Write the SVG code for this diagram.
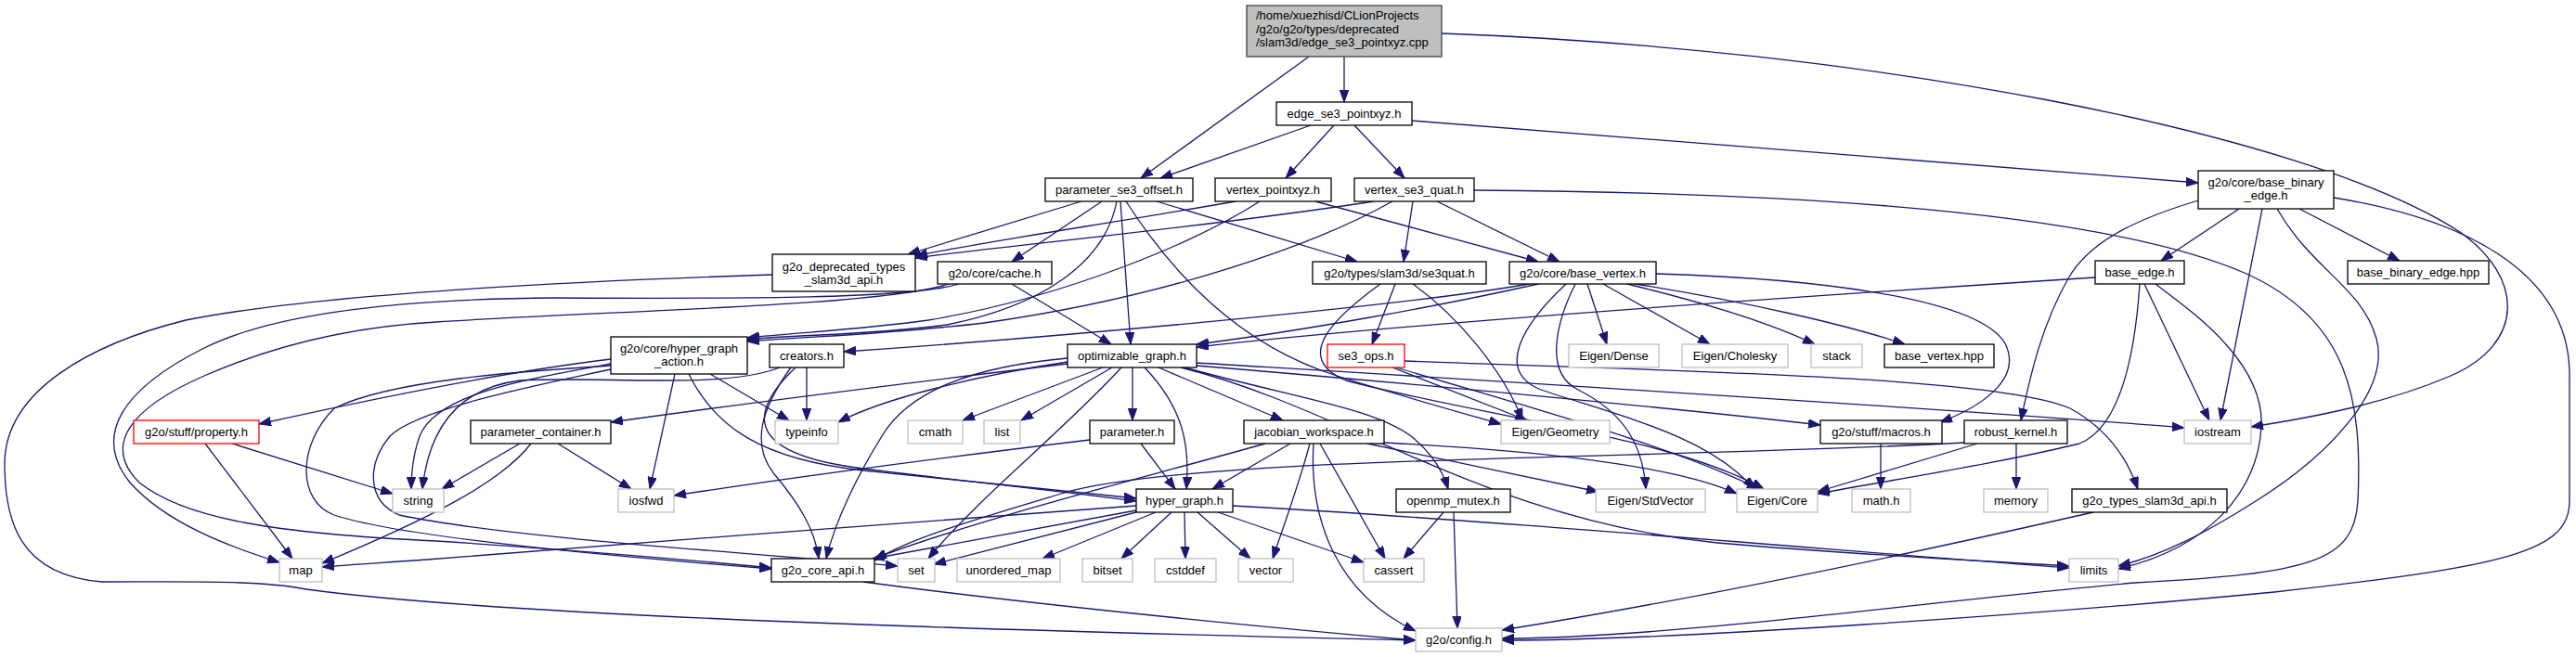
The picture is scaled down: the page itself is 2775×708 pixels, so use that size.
<svg xmlns="http://www.w3.org/2000/svg" width="2775" height="708" viewBox="0 0 2775 708">
<style>
.n rect{fill:#fff;stroke:#000;stroke-width:1.3}
.s rect{fill:#fff;stroke:#bfbfbf;stroke-width:1.3}
.r rect{fill:#fff;stroke:#ff0000;stroke-width:1.3}
.root rect{fill:#bfbfbf;stroke:#404040;stroke-width:1.3}
text{font-family:"Liberation Sans",Arial,sans-serif;font-size:13px;fill:#000;text-anchor:middle}
.root text{text-anchor:start}
#edges path{fill:none;stroke:#191970;stroke-width:1.3;marker-end:url(#ah)}
</style>
<defs>
<marker id="ah" markerUnits="userSpaceOnUse" markerWidth="13" markerHeight="10" refX="13" refY="4.75" orient="auto">
<path d="M0,0 L13,4.75 L0,9.5 z" fill="#191970" stroke="#191970" stroke-width="1"/>
</marker>
</defs>
<rect x="0" y="0" width="2775" height="708" fill="#fff"/>
<g id="edges">
<path d="M1448,61 L1448,110"/>
<path d="M1410,61 L1229,192"/>
<path d="M1553,36 C2000,52 2480,140 2650,250 C2720,300 2720,370 2640,405 C2570,435 2490,450 2425,460"/>
<path d="M1412,135 L1250,192"/>
<path d="M1437,135 L1385,192"/>
<path d="M1459,135 L1513,192"/>
<path d="M1521,130 C1800,150 2100,178 2368,197"/>
<path d="M1165,217 L978,274"/>
<path d="M1187,217 L1090,282"/>
<path d="M1203,217 C1190,285 1120,330 1020,350 C930,362 860,360 805,366"/>
<path d="M1207,217 L1218,371"/>
<path d="M1213,217 C1260,290 1330,370 1440,405 C1520,430 1575,445 1617,457"/>
<path d="M1246,217 L1462,282"/>
<path d="M1331,217 C1200,240 1050,262 986,276"/>
<path d="M1357,217 C1290,260 1150,320 1000,345 C920,356 860,358 805,364"/>
<path d="M1417,217 L1657,282"/>
<path d="M1480,217 C1300,245 1080,265 986,278"/>
<path d="M1500,217 C1420,262 1260,320 1060,348 C960,360 880,362 805,368"/>
<path d="M1522,217 L1512,282"/>
<path d="M1548,217 L1680,282"/>
<path d="M1588,205 C1900,207 2260,225 2420,295 C2530,345 2545,430 2540,540 C2536,605 2490,618 2300,628 C2100,645 1800,688 1618,688"/>
<path d="M2412,225 L2328,281"/>
<path d="M2437,225 L2392,453"/>
<path d="M2453,225 C2490,290 2545,310 2560,365 C2575,420 2510,490 2430,540 C2375,575 2330,598 2282,610"/>
<path d="M2477,225 L2585,281"/>
<path d="M2368,216 C2295,238 2250,262 2228,300 C2200,350 2188,400 2177,453"/>
<path d="M2514,213 C2650,235 2765,290 2768,400 L2768,540 C2768,595 2700,610 2450,638 C2200,662 1800,690 1618,690"/>
<path d="M2257,299 C1900,322 1500,350 1289,374"/>
<path d="M2310,306 L2380,453"/>
<path d="M2322,306 C2360,335 2440,390 2436,460 C2432,530 2380,590 2282,613"/>
<path d="M2305,306 C2300,380 2285,460 2240,478 C2150,500 2050,515 1958,532"/>
<path d="M1657,306 C1550,330 1400,357 1289,371"/>
<path d="M1647,306 C1500,332 1100,366 909,379"/>
<path d="M1710,306 L1731,371"/>
<path d="M1727,306 L1842,371"/>
<path d="M1753,306 C1830,325 1900,345 1955,371"/>
<path d="M1762,306 C1880,325 1990,350 2052,371"/>
<path d="M1784,295 C1950,300 2130,320 2160,370 C2180,410 2130,440 2090,455"/>
<path d="M1697,306 C1680,340 1660,400 1700,420 C1750,445 1770,480 1773,527"/>
<path d="M1687,306 C1640,350 1610,400 1660,420 C1750,450 1840,470 1890,527"/>
<path d="M1503,306 L1478,371"/>
<path d="M1522,306 C1570,340 1620,400 1640,453"/>
<path d="M1487,306 C1440,340 1390,385 1450,410 C1600,450 1800,470 1900,527"/>
<path d="M1513,389 C1800,400 2150,405 2230,440 C2270,462 2292,495 2303,527"/>
<path d="M1500,396 L1645,453"/>
<path d="M1504,396 C1650,440 1800,480 1895,527"/>
<path d="M1150,390 C1050,405 950,430 903,455"/>
<path d="M1188,396 L1037,453"/>
<path d="M1198,396 L1100,453"/>
<path d="M1208,396 C1150,460 1050,540 1000,602"/>
<path d="M1220,396 L1220,453"/>
<path d="M1233,396 C1275,440 1282,480 1278,527"/>
<path d="M1248,396 L1382,453"/>
<path d="M1289,391 C1600,410 2100,440 2353,461"/>
<path d="M1289,394 C1600,420 1850,445 1961,458"/>
<path d="M1272,396 C1450,440 1600,560 1850,585 C2000,598 2150,605 2229,610"/>
<path d="M1276,396 C1400,430 1480,440 1520,470 C1545,490 1555,510 1560,527"/>
<path d="M1150,386 C1050,395 980,420 950,470 C925,510 900,560 890,602"/>
<path d="M1150,392 C1000,410 800,435 658,455"/>
<path d="M658,387 C550,400 400,430 279,457"/>
<path d="M658,392 C560,410 470,425 452,470 C445,490 443,510 443,527"/>
<path d="M727,403 L700,527"/>
<path d="M765,403 L850,453"/>
<path d="M742,403 C770,460 820,495 930,507 C1050,520 1150,530 1224,537"/>
<path d="M658,394 C560,400 420,410 360,440 C320,480 320,540 360,555 C420,575 600,595 831,613"/>
<path d="M658,398 C580,415 450,440 420,470 C395,500 395,540 430,555 C550,580 800,595 967,610"/>
<path d="M869,396 L869,453"/>
<path d="M840,396 C780,420 650,405 560,410 C480,420 460,480 455,527"/>
<path d="M857,396 C800,450 810,490 930,505 C1050,520 1150,530 1224,540"/>
<path d="M852,396 C820,440 808,480 835,512 C860,542 878,570 882,602"/>
<path d="M560,478 L476,527"/>
<path d="M601,478 L680,527"/>
<path d="M572,478 C540,520 460,560 347,607"/>
<path d="M250,478 L423,532"/>
<path d="M221,478 L315,602"/>
<path d="M1229,478 L1266,527"/>
<path d="M1174,474 C1000,495 850,515 726,534"/>
<path d="M1390,478 L1306,527"/>
<path d="M1411,478 C1400,520 1385,560 1371,602"/>
<path d="M1422,478 L1492,602"/>
<path d="M1415,478 C1410,560 1440,640 1525,680"/>
<path d="M1363,478 C1250,510 1050,560 942,602"/>
<path d="M1473,478 L1722,530"/>
<path d="M1491,477 C1650,485 1800,500 1871,532"/>
<path d="M1224,545 C1000,560 700,585 460,603 C420,606 380,608 347,611"/>
<path d="M1224,550 L940,602"/>
<path d="M1224,552 L1006,608"/>
<path d="M1245,552 L1123,602"/>
<path d="M1262,552 L1208,602"/>
<path d="M1276,552 L1277,602"/>
<path d="M1290,552 L1347,602"/>
<path d="M1312,552 L1469,606"/>
<path d="M1328,545 C1600,560 2000,595 2229,612"/>
<path d="M1555,552 L1512,602"/>
<path d="M1566,552 L1570,677"/>
<path d="M2026,478 L2026,527"/>
<path d="M2172,478 L2172,527"/>
<path d="M2130,478 L1958,530"/>
<path d="M2116,477 C1800,495 1300,490 1150,530 C1050,560 980,580 942,604"/>
<path d="M2255,552 C2000,610 1800,650 1618,679"/>
<path d="M930,627 C1100,650 1350,675 1525,690"/>
<path d="M832,296 C650,302 350,315 200,345 C100,370 5,420 5,500 C5,560 20,620 110,627 C200,627 280,625 330,635 C550,665 1100,680 1525,690"/>
<path d="M1033,306 C980,322 800,322 600,321 C450,322 300,335 220,375 C130,420 100,470 140,520 C180,565 250,590 301,606"/>
<path d="M1022,306 C950,330 650,335 470,347 C380,352 300,370 220,405 C140,440 110,480 150,520 C200,560 300,575 470,583 C650,595 760,605 831,612"/>
<path d="M1090,306 L1197,371"/>
</g>
<g id="root" class="root"><rect x="1343" y="6" width="210" height="55"/><text x="1353" y="21">/home/xuezhisd/CLionProjects</text><text x="1353" y="35.5">/g2o/g2o/types/deprecated</text><text x="1353" y="50">/slam3d/edge_se3_pointxyz.cpp</text></g>
<g id="esp" class="n"><rect x="1375" y="110" width="146" height="25"/><text x="1448" y="126.5">edge_se3_pointxyz.h</text></g>
<g id="pso" class="n"><rect x="1126" y="192" width="159" height="25"/><text x="1205.5" y="208.5">parameter_se3_offset.h</text></g>
<g id="vpx" class="n"><rect x="1309" y="192" width="125" height="25"/><text x="1371.5" y="208.5">vertex_pointxyz.h</text></g>
<g id="vsq" class="n"><rect x="1459" y="192" width="129" height="25"/><text x="1523.5" y="208.5">vertex_se3_quat.h</text></g>
<g id="bbe" class="n"><rect x="2368" y="184" width="146" height="41"/><text x="2441" y="201">g2o/core/base_binary</text><text x="2441" y="215">_edge.h</text></g>
<g id="gdt" class="n"><rect x="832" y="274" width="154" height="40"/><text x="909" y="291.5">g2o_deprecated_types</text><text x="909" y="305.5">_slam3d_api.h</text></g>
<g id="cache" class="n"><rect x="1010" y="282" width="123" height="24"/><text x="1071.5" y="298.5">g2o/core/cache.h</text></g>
<g id="se3q" class="n"><rect x="1414" y="282" width="187" height="24"/><text x="1507.5" y="298.5">g2o/types/slam3d/se3quat.h</text></g>
<g id="bv" class="n"><rect x="1626" y="282" width="158" height="24"/><text x="1705" y="298.5">g2o/core/base_vertex.h</text></g>
<g id="be" class="n"><rect x="2257" y="281" width="96" height="25"/><text x="2305" y="297.5">base_edge.h</text></g>
<g id="bbehpp" class="n"><rect x="2529" y="281" width="152" height="25"/><text x="2605" y="297.5">base_binary_edge.hpp</text></g>
<g id="hga" class="n"><rect x="658" y="363" width="147" height="40"/><text x="731.5" y="379.5">g2o/core/hyper_graph</text><text x="731.5" y="394">_action.h</text></g>
<g id="creators" class="n"><rect x="829" y="371" width="80" height="25"/><text x="869" y="387.5">creators.h</text></g>
<g id="og" class="n"><rect x="1150" y="371" width="139" height="25"/><text x="1219.5" y="387.5">optimizable_graph.h</text></g>
<g id="se3ops" class="r"><rect x="1430" y="371" width="83" height="25"/><text x="1471.5" y="387.5">se3_ops.h</text></g>
<g id="edense" class="s"><rect x="1690" y="371" width="97" height="25"/><text x="1738.5" y="387.5">Eigen/Dense</text></g>
<g id="echol" class="s"><rect x="1812" y="371" width="114" height="25"/><text x="1869" y="387.5">Eigen/Cholesky</text></g>
<g id="stack" class="s"><rect x="1951" y="371" width="55" height="25"/><text x="1978.5" y="387.5">stack</text></g>
<g id="bvhpp" class="n"><rect x="2030" y="371" width="118" height="25"/><text x="2089" y="387.5">base_vertex.hpp</text></g>
<g id="prop" class="r"><rect x="144" y="453" width="135" height="25"/><text x="211.5" y="469.5">g2o/stuff/property.h</text></g>
<g id="pc" class="n"><rect x="507" y="453" width="151" height="25"/><text x="582.5" y="469.5">parameter_container.h</text></g>
<g id="typeinfo" class="s"><rect x="835" y="453" width="68" height="25"/><text x="869" y="469.5">typeinfo</text></g>
<g id="cmath" class="s"><rect x="978" y="453" width="59" height="25"/><text x="1007.5" y="469.5">cmath</text></g>
<g id="list" class="s"><rect x="1060" y="453" width="39" height="25"/><text x="1079.5" y="469.5">list</text></g>
<g id="param" class="n"><rect x="1174" y="453" width="91" height="25"/><text x="1219.5" y="469.5">parameter.h</text></g>
<g id="jw" class="n"><rect x="1340" y="453" width="151" height="25"/><text x="1415.5" y="469.5">jacobian_workspace.h</text></g>
<g id="egeo" class="s"><rect x="1617" y="453" width="117" height="25"/><text x="1675.5" y="469.5">Eigen/Geometry</text></g>
<g id="macros" class="n"><rect x="1961" y="453" width="131" height="25"/><text x="2026.5" y="469.5">g2o/stuff/macros.h</text></g>
<g id="rk" class="n"><rect x="2116" y="453" width="111" height="25"/><text x="2171.5" y="469.5">robust_kernel.h</text></g>
<g id="iostream" class="s"><rect x="2353" y="453" width="72" height="25"/><text x="2389" y="469.5">iostream</text></g>
<g id="string" class="s"><rect x="423" y="527" width="55" height="25"/><text x="450.5" y="543.5">string</text></g>
<g id="iosfwd" class="s"><rect x="666" y="527" width="60" height="25"/><text x="696" y="543.5">iosfwd</text></g>
<g id="hg" class="n"><rect x="1224" y="527" width="104" height="25"/><text x="1276" y="543.5">hyper_graph.h</text></g>
<g id="omp" class="n"><rect x="1504" y="527" width="123" height="25"/><text x="1565.5" y="543.5">openmp_mutex.h</text></g>
<g id="estd" class="s"><rect x="1719" y="527" width="118" height="25"/><text x="1778" y="543.5">Eigen/StdVector</text></g>
<g id="ecore" class="s"><rect x="1871" y="527" width="87" height="25"/><text x="1914.5" y="543.5">Eigen/Core</text></g>
<g id="math" class="s"><rect x="1995" y="527" width="63" height="25"/><text x="2026.5" y="543.5">math.h</text></g>
<g id="memory" class="s"><rect x="2137" y="527" width="69" height="25"/><text x="2171.5" y="543.5">memory</text></g>
<g id="gts" class="n"><rect x="2232" y="527" width="167" height="25"/><text x="2315.5" y="543.5">g2o_types_slam3d_api.h</text></g>
<g id="map" class="s"><rect x="301" y="602" width="46" height="25"/><text x="324" y="618.5">map</text></g>
<g id="gca" class="n"><rect x="831" y="602" width="111" height="25"/><text x="886.5" y="618.5">g2o_core_api.h</text></g>
<g id="set" class="s"><rect x="967" y="602" width="40" height="25"/><text x="987" y="618.5">set</text></g>
<g id="umap" class="s"><rect x="1031" y="602" width="111" height="25"/><text x="1086.5" y="618.5">unordered_map</text></g>
<g id="bitset" class="s"><rect x="1166" y="602" width="54" height="25"/><text x="1193" y="618.5">bitset</text></g>
<g id="cstddef" class="s"><rect x="1244" y="602" width="66" height="25"/><text x="1277" y="618.5">cstddef</text></g>
<g id="vector" class="s"><rect x="1334" y="602" width="59" height="25"/><text x="1363.5" y="618.5">vector</text></g>
<g id="cassert" class="s"><rect x="1469" y="602" width="65" height="25"/><text x="1501.5" y="618.5">cassert</text></g>
<g id="limits" class="s"><rect x="2229" y="602" width="53" height="25"/><text x="2255.5" y="618.5">limits</text></g>
<g id="config" class="s"><rect x="1525" y="677" width="93" height="25"/><text x="1571.5" y="693.5">g2o/config.h</text></g>
</svg>
